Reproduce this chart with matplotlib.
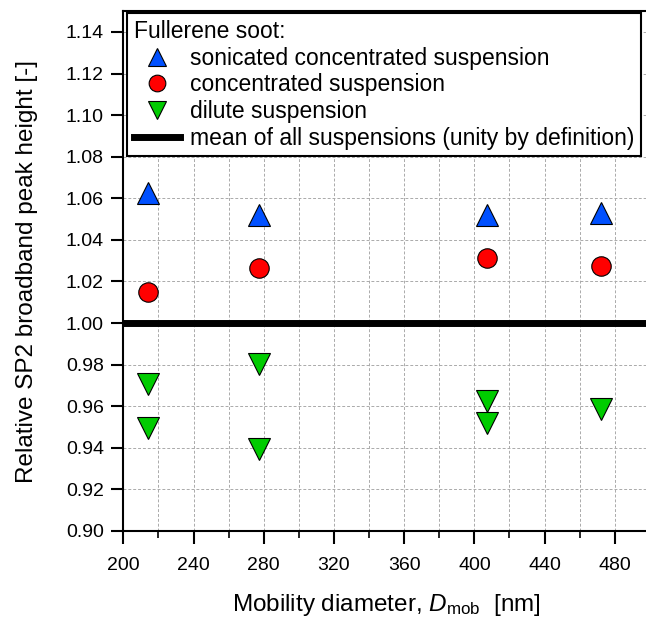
import matplotlib
matplotlib.use('Agg')
from matplotlib import pyplot as plt
from matplotlib.ticker import MultipleLocator
from matplotlib.lines import Line2D

plt.rcParams['font.family'] = ['Liberation Sans', 'DejaVu Sans']
plt.rcParams['mathtext.fontset'] = 'custom'
plt.rcParams['mathtext.rm'] = 'Liberation Sans'
plt.rcParams['mathtext.it'] = 'Liberation Sans:italic'

# mobility diameters (nm)
sonic_x = [214, 277, 407, 472]
sonic_y = [1.0627, 1.0522, 1.0522, 1.0531]
conc_x = [214, 277, 407, 472]
conc_y = [1.0147, 1.0267, 1.0312, 1.0275]
dilute_x = [214, 214, 277, 277, 407, 407, 472]
dilute_y = [0.9709, 0.9495, 0.9801, 0.9392, 0.9623, 0.9520, 0.9585]
mean_level = 1.0

fig = plt.figure(figsize=(6.46, 6.21), dpi=100)
ax = fig.add_axes([0.191, 0.145, 0.815, 0.837])

ax.axhline(mean_level, color='black', lw=5, zorder=2)
ax.plot(sonic_x, sonic_y, ls='none', marker='^', ms=16, mfc='#0050FF',
        mec='black', mew=0.8, zorder=3)
ax.plot(conc_x, conc_y, ls='none', marker='o', ms=14, mfc='#FF0000',
        mec='black', mew=0.8, zorder=3)
ax.plot(dilute_x, dilute_y, ls='none', marker='v', ms=16, mfc='#00CC00',
        mec='black', mew=0.8, zorder=3)

ax.set_xlim(200, 500)
ax.set_ylim(0.90, 1.15)
ax.xaxis.set_major_locator(MultipleLocator(40))
ax.xaxis.set_minor_locator(MultipleLocator(20))
ax.yaxis.set_major_locator(MultipleLocator(0.02))
ax.yaxis.set_major_formatter(plt.FormatStrFormatter('%.2f'))
ax.grid(which='both', color='#aaaaaa', ls=(0, (3, 2)), lw=0.7)
ax.set_axisbelow(True)
ax.tick_params(which='major', length=9, width=1.5, labelsize=14, direction='out')
ax.tick_params(axis='x', which='major', pad=10)
ax.tick_params(axis='y', which='major', pad=5)
ax.tick_params(which='minor', length=5, width=1.2, direction='out')
for s in ['left', 'bottom', 'top']:
    ax.spines[s].set_linewidth(1.5)
ax.spines['right'].set_visible(False)

ax.set_xlabel(r'Mobility diameter, $D_{\mathrm{mob}}$  [nm]', fontsize=17.5, labelpad=13)
ax.set_ylabel('Relative SP2 broadband peak height [-]', fontsize=17.5, labelpad=20)

handles = [
    Line2D([], [], ls='none', marker='^', ms=13, mfc='#0050FF', mec='black', mew=0.8),
    Line2D([], [], ls='none', marker='o', ms=12, mfc='#FF0000', mec='black', mew=0.8),
    Line2D([], [], ls='none', marker='v', ms=13, mfc='#00CC00', mec='black', mew=0.8),
    Line2D([], [], color='black', lw=5),
]
labels = ['sonicated concentrated suspension', 'concentrated suspension',
          'dilute suspension', 'mean of all suspensions (unity by definition)']
leg = ax.legend(handles, labels, title='Fullerene soot:', loc='upper left',
                bbox_to_anchor=(127 / 646, 1 - 13 / 621), bbox_transform=fig.transFigure,
                fontsize=16.5, title_fontsize=16.5, alignment='left', fancybox=False,
                framealpha=1, edgecolor='black', borderpad=0.3, labelspacing=0.16,
                handlelength=2.0, handletextpad=0.45, borderaxespad=0)
leg.get_frame().set_linewidth(1.5)

fig.savefig('out.png', dpi=100)
